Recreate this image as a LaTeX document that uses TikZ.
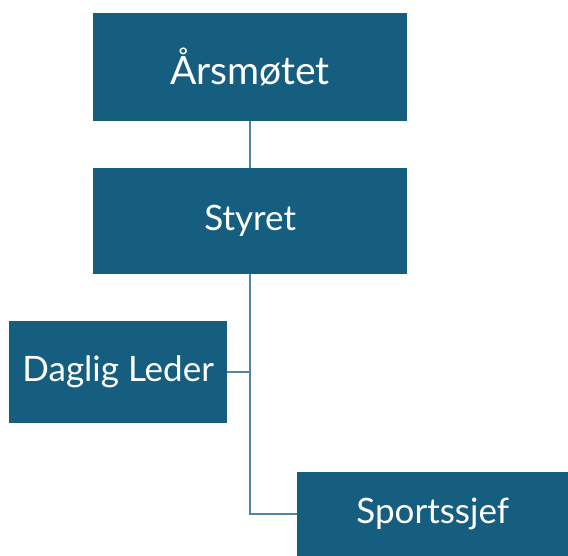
\documentclass[tikz,border=0pt]{standalone}
\usepackage{fontspec}
\setmainfont{Lato}
\usetikzlibrary{positioning}
\definecolor{boxblue}{HTML}{165E80}
\definecolor{linkblue}{HTML}{4F86A3}

\begin{document}
\begin{tikzpicture}[x=1pt,y=-1pt]
		
		% Frame
		\useasboundingbox (0,0) rectangle (568,556);
		
		% Styles
		\tikzset{
			orgbox/.style={fill=boxblue, text=white, inner sep=0pt,
				anchor=north west, font=\fontsize{35}{40}\selectfont},
			link/.style={draw=linkblue, line width=1.6pt}
		}
		
		% Boxes
		\node[orgbox, minimum width=314pt, minimum height=108pt,
		font=\fontsize{39}{44}\selectfont] (aars) at (93,13) {Årsmøtet};
		\node[orgbox, minimum width=314pt, minimum height=106pt] (styret) at (93,168) {Styret};
		\node[orgbox, minimum width=218pt, minimum height=102pt] (daglig) at (9,321) {Daglig Leder};
		\node[orgbox, minimum width=271pt, minimum height=84pt] (sport) at (297,472) {Sportssjef};
		
		% Links
		\coordinate (bend) at (styret.south |- sport.west);
		\draw[link] (aars.south) -- (styret.north);
		\draw[link] (styret.south) -- (bend) -- (sport.west);
		\draw[link] (daglig.east) -- (daglig.east -| styret.south);
		
	\end{tikzpicture}
\end{document}
